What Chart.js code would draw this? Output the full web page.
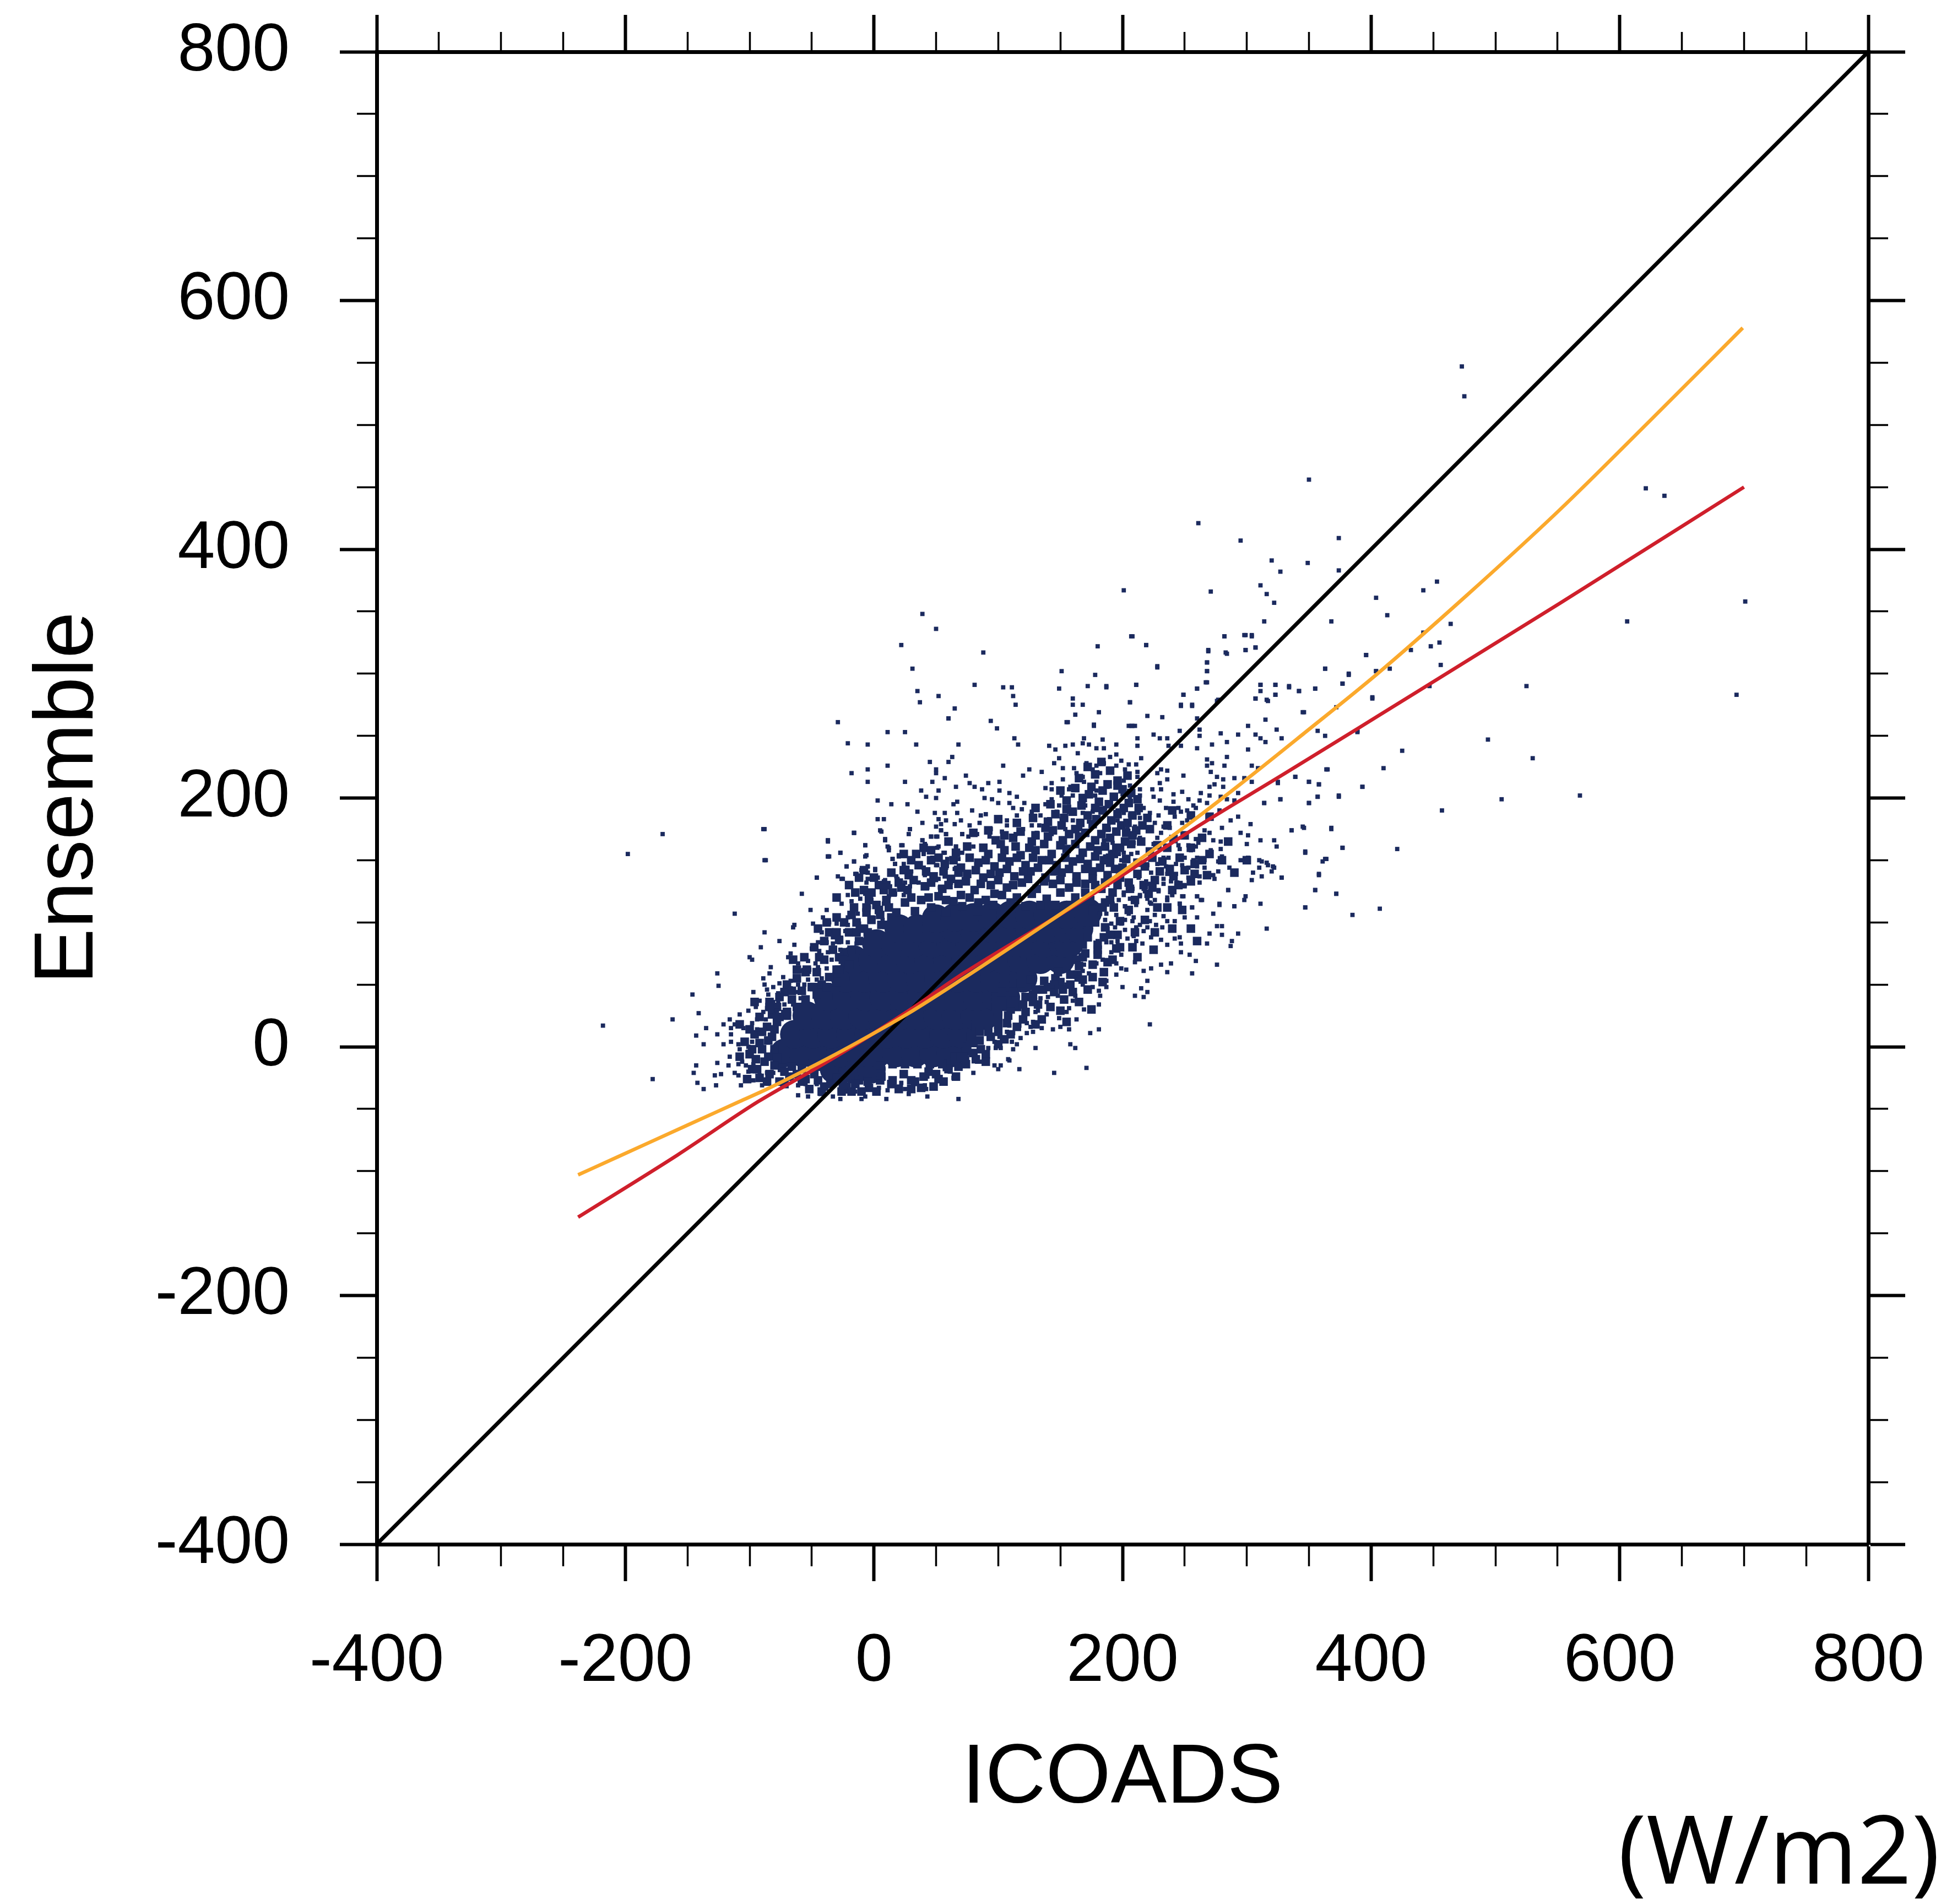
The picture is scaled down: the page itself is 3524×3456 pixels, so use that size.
<!DOCTYPE html>
<html><head><meta charset="utf-8">
<style>html,body{margin:0;padding:0;background:#fff}canvas{display:block}</style>
<script src="https://cdn.jsdelivr.net/npm/chart.js@4"></script>
</head><body><canvas id="c" width="3524" height="3456"></canvas>
<script>
const majorTicks=[-400,-200,0,200,400,600,800];
const minorTicks=[-350,-300,-250,-150,-100,-50,50,100,150,250,300,350,450,500,550,650,700,750];
const xTitle="ICOADS", yTitle="Ensemble", unitLabel="(W/m2)";
const oneToOne=[[-400,-400],[800,800]];
const redFit=[[-238,-137],[-158,-87],[-93,-44],[-46,-17],[-16,1],[28,29],[72,59],[146,104],[183,127],[257,175],[331,220],[404,265],[551,356],[700,450]];
const orangeFit=[[-238,-103],[-206,-88.5],[-150,-63],[-108,-44],[-86,-34],[-46,-14],[-16,2],[28,27],[72,55],[146,104],[183,129],[220,155],[257,182],[301,216],[346,252],[404,299],[477,363],[551,431],[624,503],[699,578]];
// dense centre of the cloud
const cloudCore=[[-32,-18],[-17,-18],[-2,-18],
[-72,-5],[-57,-5],[-42,-5],[-27,-5],[-12,-5],[3,-5],[18,-5],[33,-5],[48,-5],[62,-5],
[-64,10],[-49,10],[-34,10],[-19,10],[-4,10],[11,10],[26,10],[41,10],[56,10],[71,10],
[-54,25],[-39,25],[-24,25],[-9,25],[6,25],[21,25],[36,25],[51,25],[66,25],[81,25],[89,25],
[-37,40],[-22,40],[-7,40],[8,40],[23,40],[38,40],[53,40],[68,40],[83,40],[98,40],[106,40],
[-23,55],[-8,55],[7,55],[22,55],[37,55],[52,55],[67,55],[82,55],[97,55],[112,55],[120,55],
[-16,70],[-1,70],[14,70],[29,70],[44,70],[59,70],[74,70],[89,70],[104,70],[119,70],[134,70],[150,70],
[2,83],[17,83],[32,83],[47,83],[62,83],[77,83],[92,83],[107,83],[122,83],[137,83],[152,83],[157,83],
[20,95],[35,95],[50,95],[65,95],[80,95],[95,95],[110,95],[125,95],[140,95],[155,95],[165,95],
[50,103],[65,104],[80,104],[95,105],[110,106],[125,106],[140,106],[155,106],[165,106],[172,108]];
// clumps around the centre
const cloudClumps=[[33,109],[46,112],[58,108],[71,113],[83,109],[96,114],[38,118],[52,121],[64,117],[77,120],[90,118],[103,122],[115,120],[127,123],[139,119],[150,124],[162,120],[174,118],[186,116],
[27,126],[41,129],[55,127],[68,131],[81,126],[94,130],[107,128],[119,132],[131,127],[144,131],[157,128],[170,131],[183,127],
[48,137],[62,135],[75,139],[88,136],[101,140],[113,137],[126,141],[138,136],[151,140],[163,137],[176,141],[188,138],
[57,147],[70,144],[84,148],[97,145],[109,149],[122,146],[135,150],[147,146],[160,149],[172,147],[185,150],
[66,156],[92,155],[105,158],[118,154],[130,158],[143,155],[155,159],[168,156],[180,158],[193,155],
[98,166],[112,168],[127,165],[140,169],[152,166],[165,169],[178,166],[190,168],[202,165],
[138,176],[151,178],[162,175],[176,179],[187,176],[199,178],[211,174],[146,187],[160,189],[172,186],[184,190],[196,187],[208,186],[220,184],[155,198],[168,200],[181,197],[193,201],[205,196],[175,209],[188,211],[200,207],[213,192],[178,219],[190,222],[204,218],
[195,160],[207,163],[222,157],[236,160],[190,148],[203,151],[218,145],[232,149],[246,152],[258,147],[198,136],[212,139],[226,134],[241,137],[255,133],[192,124],[206,127],[221,123],[193,112],[205,110],[198,101],[185,88],[195,79],[210,92],[228,112],[240,126],[268,138],[280,150],
[82,16],[90,23],[78,8],[98,32],[107,19],[114,38],[103,44],[122,28],[132,34],[118,51],[128,42],[137,53],[145,44],[153,38],[146,55],[158,50],[164,58],[172,46],[176,66],[185,60],[135,22],[115,16],[94,8],[86,-2],[105,6],[150,29],[168,72],[180,74],[188,68],
[-62,55],[-54,62],[-46,60],[-40,70],[-33,78],[-44,72],[-28,86],[-20,92],[-36,92],[-14,100],[-8,95],[-2,102],[5,106],[-24,76],[-50,48],[-58,45],[-66,38],[-72,44],[-78,32],[-70,28],[-82,26],[18,108],[-16,112],[-6,108],[2,114],[-30,104],
[10,118],[22,128],[-8,126],[4,130],[14,140],[28,138],[36,146],[-12,136],[24,155],[40,160],[52,152],[60,165],
[-78,20],[-86,16],[-96,10],[-82,8],[-92,3],[-80,-2],[-100,-6],[-88,-12],[-78,-9],[-98,-18],[-84,-22],[-74,-17],[-68,-24],[-58,-28],[-92,-25],[-76,-28],[-66,-16],
[-48,-22],[-40,-32],[-30,-25],[-22,-32],[-12,-27],[-4,-33],[6,-24],[14,-30],[24,-22],[33,-28],[44,-20],[52,-26],[60,-14],[68,-16],[74,-4],[38,-33],[-18,-36],
[176,110],[184,112],[190,118],[178,100],[186,96],[172,88],[180,78],[170,75],[163,70],[155,64],[148,60],[168,82],
[-90,12],[-85,5],[-90,-2],[-85,-8],[-80,14],[-95,-10],[-80,-15],[-72,-20],[-62,-22],
[-70,25],[-62,32],[-55,38],[-48,48],[-42,50],[-30,62],[-28,72],[-25,70],[-18,78],[-12,85],[-5,92],[6,98],[14,104],
[-55,-26],[-45,-27],[-35,-30],[-25,-30],[-15,-30],[-5,-28],[5,-27],[15,-27],[30,-27],[40,-24],[50,-22],[60,-18],[65,-12],
[72,-8],[80,-5],[85,5],[92,12],[100,18],[108,25],[115,32],[122,40],[130,46],[140,48],[150,52],[158,58],[165,65],
[4,110],[12,112],[25,116],[30,120],[44,120],[58,118],[70,122],[84,116],[97,123],[110,116],[122,113],[134,114],[146,114],[158,114],[170,124],[178,130],[186,132],
[15,124],[32,134],[46,132],[60,130],[74,133],[86,131],[100,134],[112,130],[124,135],[137,133],[150,134],[163,132],[176,135],
[20,132],[8,126],[-2,124],[42,141],[56,141],[68,140],[82,142],[94,139],[107,143],[120,141],[132,144],[145,141],[157,143],[170,143],[182,144],[194,143],
[30,150],[46,150],[64,150],[77,152],[90,150],[103,152],[115,152],[128,152],[141,150],[154,152],[166,151],[178,153],[190,152],
[75,161],[88,160],[102,163],[114,161],[125,160],[137,163],[150,162],[162,163],[174,161],[186,161],[198,160],
[80,172],[92,174],[105,170],[118,173],[130,170],[144,174],[157,171],[170,172],[183,171],[195,173],[208,170],
[100,183],[115,180],[128,184],[140,181],[153,184],[166,180],[179,183],[191,182],[204,180],[216,178],
[130,192],[142,195],[155,191],[167,194],[178,192],[189,195],[201,192],[212,199],
[150,206],[162,208],[173,203],[184,206],[196,210],[207,204],[165,216],[172,225],[183,229],[196,214],
[200,144],[212,148],[224,152],[238,143],[250,142],[264,150],[205,132],[217,130],[230,141],[245,130],[258,139],[196,130],[210,118],[224,128],[236,112],[248,110],[203,172],[215,165],[228,162],[241,167],[255,160],[270,155],[222,175],[236,178],[250,170],[264,168],[240,190],[255,186],[270,185],[285,165],[290,140],[300,150],[196,90],[208,80],[218,102],[226,92],[240,95],[255,95],[260,85],[212,72],[225,78],
[85,12],[92,18],[100,24],[110,30],[120,34],[128,36],[136,46],[145,50],[152,46],[160,44],[168,54],[176,56],[184,52],[192,70],[180,82],[190,90],[198,80],[112,44],[126,54],[100,12],[110,10],[120,22],[130,18],[142,32],[155,20],[165,36],[175,30],[90,-6],[100,2],
[-65,70],[-56,72],[-48,80],[-40,85],[-30,92],[-24,100],[-14,92],[-6,112],[-18,106],[-38,100],[-45,95],[-55,60],[-62,62],[-70,50],[-76,40],[-84,36],[-66,45],[-4,118],[-15,124],[0,136],[10,130],[24,142],[34,155],[46,158],[-8,142],[-20,130],[-30,120],
[-104,4],[-98,-2],[-108,-8],[-94,-18],[-102,-26],[-86,-28],[-72,-30],[-100,14],[-108,18],[-92,24],[-84,32],[-76,24],[-96,36],
[-52,-34],[-42,-36],[-26,-36],[-10,-36],[2,-36],[20,-34],[30,-34],[48,-32],[56,-28],[66,-24],[74,-14],[82,-10],[90,-12],
[-44,34],[-38,48],[-30,52],[-52,30],[-46,42],[-36,56],[-28,62],[-20,66],[10,98],[15,100],
[-50,-14],[-48,-18],[-58,-18],[-44,-16],[55,-14],[65,-8],[45,-14],[35,-14],[25,-14],[15,-14],[5,-15],[-70,8],[-62,18],[-56,20],[70,-8],[75,0],[80,3],[85,14],[96,20],[100,28],[110,35]];
// single outlying dots
const cloudDots=[[473,547],[475,523],[350,456],[261,421],[295,407],[374,409],[320,391],[349,389],[327,382],[374,383],[311,371],[271,366],[201,367],[316,364],[322,357],[314,342],[282,330],[304,331],[299,331],[207,330],[219,323],[299,319],[307,321],[283,317],[269,319],[268,309],[268,302],[228,306],[267,293],[187,290],[211,291],[260,288],[311,291],[323,291],[334,290],[342,286],[355,288],[323,283],[307,280],[316,279],[249,283],[206,277],[256,275],[247,275],[277,279],
[404,361],[442,367],[453,374],[413,347],[368,342],[464,340],[442,333],[448,322],[455,325],[432,319],[396,315],[456,307],[363,304],[404,302],[415,304],[382,300],[377,292],[401,281],[372,273],[345,269],[447,290],[621,449],[636,443],[701,358],[606,342],[525,290],[694,283],[494,247],[530,232],[425,238],[410,224],[568,202],[505,199],[393,209],[457,190],[421,159],[377,160],[363,151],[347,157],[368,176],[345,177],[336,174],[374,202],[357,201],[350,196],[358,211],[350,213],[364,223],[327,199],[314,196],[339,217],[325,213],[389,254],[358,139],[355,126],[372,123],[347,112],[407,111],[385,106],[316,95],[328,136],[321,145],[316,148],[310,150],[300,151],
[-198,155],[-170,171],[-218,17],[-88,175],[-88,150],[-178,-26],[-125,49],[-126,59],[-146,42],[-141,27],[-162,22],[-112,107],[-58,123],[-46,136],[-37,166],[-37,153],[-16,172],[-29,261],[-21,244],[-5,243],[11,253],[25,253],[34,243],[68,243],[60,264],[94,262],[99,256],[155,261],[177,259],[207,258],
[39,348],[50,336],[22,323],[88,317],[180,322],[31,304],[151,302],[178,299],[81,291],[104,289],[111,289],[172,290],[149,288],[35,286],[52,282],[112,282],[37,277],[114,275],[160,280],[160,275],[168,275],[65,272],[162,267],[181,269],[60,264],[156,261],[177,258],[113,248],[116,243],[141,242],[146,239],[154,242],[160,243],[168,244],[169,248],[173,243],[179,240],[164,236],[63,233],[60,229],[45,229],[149,232],[145,228],[171,228],[179,226],[11,226],[104,226],[-5,223],[-18,220],[50,223],[50,220],[125,223],[135,221],[120,218],[152,224],[161,224],[163,220],[176,223],[182,220],[74,218],[57,216],[-5,213],[25,213],[47,213],[77,212],[92,212],[101,213],[152,215],[143,212],[168,217],[169,213],[179,213],[66,209],[81,209],[87,207],[138,208],[143,207],[158,209],[157,207],[179,206],[38,206],[52,206],[101,206],[109,204],[115,201],[42,201],[50,200],[89,200],[95,199],[178,202],[160,202],[151,202],[143,199],[3,198],[14,195],[27,195],[64,195],[67,197],[100,196],[109,196],[121,196],[157,193],[170,194],[138,195],[149,194],[112,192],[119,191],[35,189],[49,188],[57,188],[67,188],[79,190],[86,186],[90,187],[115,186],[127,189],[134,186],[147,189],[157,189],[168,188],[176,189],[3,183],[8,183],[52,183],[58,182],[70,182],[99,182],[107,182],[116,181],[141,183],[151,183],[160,182],[173,181],[179,183],[39,180],[54,179],[65,179],[85,180],[77,178],[107,178],[127,178],[133,178],[139,178],[50,177],[-16,172],[6,173],[29,175],[54,174],[94,175],[120,175],[154,175],[166,175],[28,171],[58,171],[71,171],[46,169],[50,169],[76,169],[83,171],[93,169],[103,173],[114,171],[143,171],[131,172],
[9,166],[-37,166],[39,166],[-7,162],[11,161],[22,162],[41,163],[52,161],[66,161],[80,161],[-27,156],[-36,153],[12,158],[-6,154],[20,154],[15,151],[-16,149],[40,156],[56,156],[71,156],[-22,145],[-5,145],[17,147],[24,147],[-10,142],[1,143],[-14,139],[-5,140],[27,141],[40,144],[50,146],[58,144],[65,143],[-29,137],[-25,135],[3,136],[9,134],[19,135],[30,141],[41,138],[52,135],[57,137],[62,136],[-5,135],
[-87,150],[-89,175],[-46,136],[-37,153],[-37,165],[-27,156],[-16,172],[-22,145],[-26,135],[-15,139],[-16,149],[-7,162],[-7,153],[-5,145],[-10,142],[-5,140],[-6,132],[9,167],[5,174],[12,160],[3,136],[8,133],[6,129],[13,129],[18,137],[15,151],[20,153],[23,162],[17,147],[27,144],[25,132],[29,129],[1,142],[29,175],[41,163],[39,166],[51,160],[46,169],[51,169],[54,174],[58,171],[66,161],[71,171],[40,155],[47,152],[57,156],[59,151],[68,151],[40,144],[43,139],[51,146],[58,144],[66,144],[57,137],[50,134],[62,132],[36,132],[43,128],[53,128],[69,140],
[-51,110],[-38,110],[-41,104],[-49,99],[-65,96],[-64,98],[-88,92],[-76,85],[-91,80],[-64,82],[-42,92],[-36,100],[-30,99],[-21,104],[-21,98],[-36,93],[-33,88],[-26,115],[-21,122],[-13,107],[-11,119],[-18,117],[-7,123],[-5,121],[-2,118],[12,121],[17,123],[24,122],[8,115],[-1,104],[-4,112],[7,102],[-12,99],[-23,93],[-19,92],[-13,96],[-45,84],[-38,84],[-33,83],[-28,84],[-21,84],[-14,83],[-50,79],[-44,77],[-37,76],[-27,78],[-67,75],[-69,72],[-100,72],[-98,70],[-53,69],[-47,67],[-61,67],[-34,70],[-83,64],[-84,59],[-60,61],[-52,62],[-45,64],[-38,63],[-73,56],[-47,59],[-55,59],[-89,55],[-67,53],[-76,51],[-61,50],[-88,50],[-81,48],[-86,46],[-97,44],[-77,43],[-67,47],[-62,44],[-56,50],[-53,54],[-46,54],[-42,55],[-85,42],[-92,37],[-81,36],[-77,37],[-72,34],[-65,34],[-59,39],[-95,32],[-86,31],[-101,29],[-108,26],[-89,28],[-78,29],[-73,28],[-83,25],[-116,22],[-98,19],[-94,22],[-87,22],[-121,18],[-112,18],[-105,15],[-135,15],[-115,15],[-94,14],[-126,10],[-115,10],[-143,9],[-137,2],[-121,2],[-115,4],[-109,2],[-101,0],[-98,4],[-108,-2],[-101,-4],[-116,-8],[-106,-12],[-126,-13],[-143,-15],[-117,-15],[-109,-14],[-103,-15],[-97,-14],[-145,-21],[-128,-23],[-123,-22],[-112,-21],[-109,-23],[-101,-20],[-92,-23],[-142,-29],[-137,-34],[-127,-31],[-107,-31],[-97,-27],[-90,-31],[-86,-21],[-81,-21],
[-61,-31],[-61,-39],[-55,-30],[-53,-40],[-46,-30],[-43,-38],[-33,-40],[-27,-42],[-22,-36],[-15,-36],[-10,-42],[-7,-40],[-4,-34],[4,-33],[10,-42],[11,-35],[19,-32],[28,-38],[25,-34],[34,-30],[42,-34],[43,-40],[68,-42],[41,-31],[64,-25],[61,-20],[57,-18],[43,-24],[22,-29],[4,-28],[13,-30],
[222,18],[171,-17],[145,-21],[80,-21],[117,-18],[100,-18],[97,-15],[102,-15],[109,-11],[108,-10],[83,-12],[86,-12],[75,-9],[92,-1],[98,-1],[102,-1],[112,-2],[130,-1],[158,2],[162,-1],[174,11],[181,14],[157,14],[150,16],[144,14],[135,15],[128,12],[123,11],[118,7],[115,2],[111,4],[103,5],[97,4],[107,12],[112,11],[101,8],[163,22],[149,23],[139,26],[155,28],[157,31],[149,29],[169,30],[181,34],[130,28],[132,29],[128,20],[123,19],[126,16],[117,17],[109,17],[143,33],[139,36],[160,37],[182,41],[210,41],[217,40],[220,44],[181,45],[162,41],[148,41],[140,40],[134,39],[176,48],[187,48],[200,48],[215,47],[159,47],[147,48],[140,47],[168,50],[155,50],[220,53],[187,53],[195,58],[203,62],[217,61],[223,63],[236,60],[256,59],[259,69],[276,66],[239,67],[231,66],[210,68],[199,63],[195,67],[177,57],[173,59],[163,54],[162,59],[169,66],[179,67],[168,61],[184,70],[199,74],[191,76],[247,76],[254,74],[268,83],[287,81],[288,85],[270,91],[280,90],[293,91],[276,97],[280,97],[273,107],[290,113],[278,114],[285,126],[260,121],[263,118],[256,112],[260,104],[250,104],[246,115],[248,121],[240,122],[236,118],[229,125],[226,118],[220,110],[226,106],[233,105],[242,101],[236,101],[232,96],[227,98],[222,101],[220,96],[214,98],[211,96],[217,93],[223,88],[231,86],[236,82],[242,87],[246,88],[247,83],[216,83],[209,89],[204,87],[211,85],[197,89],[196,85],[191,84],[187,84],[180,85],[202,94],[194,96],[188,95],[191,99],[199,99],[202,102],[208,101],[209,104],[186,102],[195,106],[205,107],[187,107],[182,107],[202,113],[211,114],[223,115],[220,119],[214,122],[218,125],[208,127],[201,124],[197,118],[206,119],[236,120],[244,132],[233,131],[250,129],[220,131],
[208,330],[282,330],[304,330],[298,331],[219,323],[269,318],[284,316],[299,319],[307,321],[396,315],[268,309],[228,305],[363,304],[268,302],[382,299],[404,302],[211,291],[187,289],[268,293],[260,288],[311,291],[323,291],[334,289],[377,292],[342,286],[355,288],[249,283],[206,277],[311,286],[323,283],[307,280],[317,278],[401,280],[276,278],[247,274],[256,274],[220,266],[232,265],[346,269],[315,263],[208,258],[205,258],[210,258],[260,264],[301,258],[324,255],[246,254],[262,255],[357,254],[279,252],[293,251],[307,251],[225,251],[230,248],[236,248],[363,250],[389,253],[311,248],[328,248],[212,248],[184,247],[195,243],[212,242],[262,250],[284,245],[315,245],[272,243],[237,242],[185,240],[260,240],[301,239],[247,242],[284,233],[268,231],[272,228],[190,233],[195,235],[199,230],[215,232],[185,228],[282,226],[304,226],[268,226],[309,224],[205,227],[211,227],[195,226],[189,223],[202,223],[231,223],[236,222],[228,220],[212,221],[271,221],[365,223],[249,218],[276,217],[281,215],[290,216],[298,216],[339,217],[236,215],[204,217],[201,214],[212,217],[304,213],[350,213],[230,212],[274,211],[270,209],[325,212],[358,211],[393,209],[281,209],[188,209],[198,209],[206,210],[224,207],[231,207],[214,207],[248,205],[241,203],[263,204],[270,202],[293,204],[279,201],[200,203],[214,202],[225,201],[357,201],[374,201],[327,199],[230,198],[206,199],[241,197],[253,199],[262,198],[284,199],[290,198],[314,196],[350,196],[268,196],[245,192],[257,194],[247,189],[259,192],[217,192],[235,192],[252,190],[278,190],[222,188],[229,186],[213,188],[206,186],[201,188],[196,190],[186,192],[196,182],[242,185],[271,186],[293,185],[214,184],[287,182],[248,180],[252,182],[226,180],[203,180],[303,179],[346,176],[368,175],[336,174],[280,176],[238,176],[233,177],[223,175],[210,177],[204,175],[189,175],[194,173],[266,174],[270,172],[295,172],[301,170],[231,172],[210,171],[214,168],[228,168],[259,167],[273,166],[279,165],[311,166],[322,166],[300,163],[261,164],[192,164],[209,164],[185,166],[225,163],[253,162],[259,161],[245,162],[324,161],[377,160],[279,159],[197,160],[186,160],[246,159],[271,158],[255,158],[347,156],[212,156],[207,155],[201,156],[197,155],[190,156],[186,153],[280,153],[301,152],[295,150],[312,149],[364,151],[361,149],[233,152],[237,152],[245,152],[250,152],[257,150],[260,152],[266,150],[277,149],[317,146],[199,150],[202,150],[190,147],[220,146],[228,147],[235,145],[243,147],[248,146],[253,144],[260,145],[266,144],[286,144],[310,144],[322,144],[277,141],[320,141],[305,140],[358,138],[273,138],[243,139],[253,136],[262,137],[236,139],[233,135],[223,140],[219,133],[312,137],[304,134],[328,136],[274,135],[239,133],[244,132],[262,132],[250,130],[223,131],[213,136],[208,127],[217,127],[229,126],[240,122],[285,126],[355,126],[372,123],[299,121],[249,121],[260,121],[236,118],[201,122],[214,121],[222,116],[192,115],[202,113],[264,118],[278,115],[298,118],[290,113],[311,115],[246,115],[256,112],[347,112]];

const black="#000000", navy="#1B2A5E", orange="#FBA92C", red="#CF1F2B";
const toXY=a=>a.map(p=>({x:p[0],y:p[1]}));
const setTicks=list=>s=>{s.ticks=list.map(v=>({value:v}));};
const baseLine=(data,color,order,w)=>({data:toXY(data),showLine:true,borderColor:color,borderWidth:w,pointRadius:0,cubicInterpolationMode:'monotone',order});
const dots=(data,style,r,order)=>({data:toXY(data),pointStyle:style,pointRadius:r,pointBorderWidth:0,borderWidth:0,pointBackgroundColor:navy,backgroundColor:navy,order});
const tickFont={family:"'Liberation Sans',Arial,sans-serif",size:122};
const titleFont={family:"'Liberation Sans',Arial,sans-serif",size:152,lineHeight:0.6};
const zeroPad=s=>{s.paddingLeft=0;s.paddingRight=0;s.paddingTop=0;s.paddingBottom=0;};
const major=(pos,size,extra={})=>({type:'linear',position:pos,min:-400,max:800,weight:10,afterBuildTicks:setTicks(majorTicks),
  afterFit:s=>{if(pos==='left'||pos==='right')s.width=size;else s.height=size;zeroPad(s);},
  border:{display:true,color:black,width:7},
  grid:{drawOnChartArea:false,drawTicks:true,tickLength:67,tickWidth:6,tickColor:black,color:black},
  ticks:{display:false,autoSkip:false,maxRotation:0},...extra});
const minor=(pos,len)=>({type:'linear',position:pos,min:-400,max:800,weight:0,afterBuildTicks:setTicks(minorTicks),
  afterFit:s=>{if(pos==='left'||pos==='right')s.width=0;else s.height=0;zeroPad(s);},
  border:{display:false},
  grid:{drawOnChartArea:false,drawTicks:true,tickLength:len,tickWidth:3.5,tickColor:black},
  ticks:{display:false}});
new Chart(document.getElementById('c'),{type:'scatter',
 data:{datasets:[
  {label:'orange',...baseLine(orangeFit,orange,0,6.5)},
  {label:'red',...baseLine(redFit,red,1,6.5)},
  {label:'1:1',...baseLine(oneToOne,black,2,7)},
  {label:'dots',...dots(cloudDots,'rect',5.5,3)},
  {label:'clumps',...dots(cloudClumps,'rect',11,4)},
  {label:'core',...dots(cloudCore,'circle',26,5)}
 ]},
 options:{responsive:false,animation:false,devicePixelRatio:1,
  layout:{padding:{left:0,top:0,right:2,bottom:0}},
  plugins:{legend:{display:false},tooltip:{enabled:false},
   title:{display:true,text:unitLabel,position:'bottom',align:'end',color:black,padding:0,
     font:{family:"'Open Sans',sans-serif",size:173,weight:'normal',lineHeight:1}}},
  scales:{
   x:major('bottom',480,{title:{display:true,text:xTitle,color:black,font:titleFont,padding:{top:0,bottom:7}},
     ticks:{display:true,color:black,font:tickFont,padding:74,autoSkip:false,maxRotation:0,callback:v=>String(v)}}),
   y:major('left',684,{title:{display:true,text:yTitle,color:black,font:{...titleFont,lineHeight:1},padding:{top:50,bottom:0}},
     ticks:{display:true,color:black,font:tickFont,padding:91,autoSkip:false,callback:v=>String(v)}}),
   x2:major('top',94),
   y2:major('right',130),
   xm:minor('bottom',40),ym:minor('left',36),xm2:minor('top',36),ym2:minor('right',36)
  }}});
</script></body></html>
